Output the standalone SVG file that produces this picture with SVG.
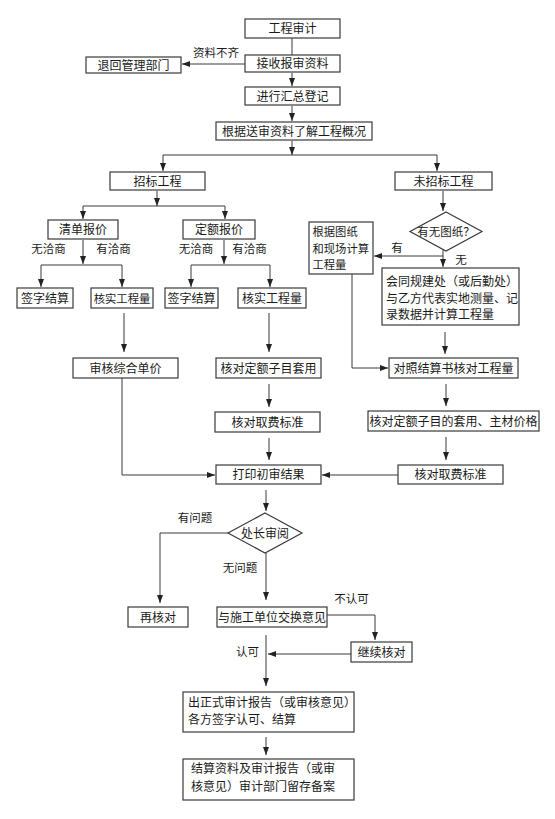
<svg xmlns="http://www.w3.org/2000/svg" width="555" height="819" viewBox="0 0 555 819">
<style>
.b{fill:#fff;stroke:#3a3a3a;stroke-width:1.2}
.t{font-family:"Noto Sans CJK SC","Noto Sans",sans-serif;font-size:12px;fill:#1a1a1a}
.s{font-size:11.3px}
.c{text-anchor:middle}
.l{font-family:"Noto Sans CJK SC","Noto Sans",sans-serif;font-size:11.5px;fill:#1a1a1a;text-anchor:middle}
.e{fill:none;stroke:#3a3a3a;stroke-width:1}
</style>
<defs>
<marker id="ah" viewBox="0 0 8 6" refX="8" refY="3" markerWidth="8" markerHeight="6" orient="auto" markerUnits="userSpaceOnUse"><path d="M0,0 L8,3 L0,6 z" fill="#222"/></marker>
</defs>
<rect width="555" height="819" fill="#fff"/>
<g id="connectors">
<line class="e" x1="292" y1="38" x2="292" y2="55"/>
<line class="e" x1="245" y1="64" x2="182" y2="64" marker-end="url(#ah)"/>
<line class="e" x1="292" y1="73" x2="292" y2="86" marker-end="url(#ah)"/>
<line class="e" x1="292" y1="106" x2="292" y2="121" marker-end="url(#ah)"/>
<line class="e" x1="292" y1="141" x2="292" y2="155" marker-end="url(#ah)"/>
<line class="e" x1="163" y1="155" x2="437" y2="155"/>
<line class="e" x1="163" y1="155" x2="163" y2="171" marker-end="url(#ah)"/>
<line class="e" x1="437" y1="155" x2="437" y2="171" marker-end="url(#ah)"/>
<line class="e" x1="157" y1="191" x2="157" y2="206" marker-end="url(#ah)"/>
<line class="e" x1="83" y1="206" x2="225" y2="206"/>
<line class="e" x1="83" y1="206" x2="83" y2="219" marker-end="url(#ah)"/>
<line class="e" x1="225" y1="206" x2="225" y2="219" marker-end="url(#ah)"/>
<line class="e" x1="83" y1="240" x2="83" y2="264" marker-end="url(#ah)"/>
<line class="e" x1="41" y1="265" x2="122" y2="265"/>
<line class="e" x1="41" y1="265" x2="41" y2="287" marker-end="url(#ah)"/>
<line class="e" x1="122" y1="265" x2="122" y2="287" marker-end="url(#ah)"/>
<line class="e" x1="224" y1="240" x2="224" y2="264" marker-end="url(#ah)"/>
<line class="e" x1="191" y1="265" x2="270" y2="265"/>
<line class="e" x1="191" y1="265" x2="191" y2="287" marker-end="url(#ah)"/>
<line class="e" x1="270" y1="265" x2="270" y2="287" marker-end="url(#ah)"/>
<line class="e" x1="124" y1="313" x2="124" y2="352" marker-end="url(#ah)"/>
<line class="e" x1="269" y1="313" x2="269" y2="352" marker-end="url(#ah)"/>
<line class="e" x1="443" y1="191" x2="443" y2="211" marker-end="url(#ah)"/>
<line class="e" x1="443" y1="250" x2="443" y2="267" marker-end="url(#ah)"/>
<line class="e" x1="443" y1="256" x2="374" y2="256" marker-end="url(#ah)"/>
<path class="e" d="M352,274 V368 H388" marker-end="url(#ah)"/>
<line class="e" x1="445" y1="332" x2="445" y2="354" marker-end="url(#ah)"/>
<line class="e" x1="269" y1="384" x2="269" y2="407" marker-end="url(#ah)"/>
<line class="e" x1="269" y1="438" x2="269" y2="460" marker-end="url(#ah)"/>
<line class="e" x1="446" y1="384" x2="446" y2="406" marker-end="url(#ah)"/>
<line class="e" x1="446" y1="437" x2="446" y2="460" marker-end="url(#ah)"/>
<line class="e" x1="398" y1="475" x2="322" y2="475" marker-end="url(#ah)"/>
<path class="e" d="M122,378 V475 H215" marker-end="url(#ah)"/>
<line class="e" x1="266" y1="490" x2="266" y2="511" marker-end="url(#ah)"/>
<path class="e" d="M228,533 H160 V603" marker-end="url(#ah)"/>
<line class="e" x1="266" y1="553" x2="266" y2="600" marker-end="url(#ah)"/>
<path class="e" d="M327,615 H375 V640" marker-end="url(#ah)"/>
<line class="e" x1="351" y1="654" x2="268" y2="654" marker-end="url(#ah)"/>
<line class="e" x1="266" y1="635" x2="266" y2="686" marker-end="url(#ah)"/>
<line class="e" x1="266" y1="737" x2="266" y2="755" marker-end="url(#ah)"/>
</g>
<g id="labels">
<text class="l" x="216" y="56.5">资料不齐</text>
<text class="l" x="48.5" y="253">无洽商</text>
<text class="l" x="113.5" y="253">有洽商</text>
<text class="l" x="196" y="253">无洽商</text>
<text class="l" x="249.5" y="253">有洽商</text>
<text class="l" x="397" y="252">有</text>
<text class="l" x="461" y="264">无</text>
<text class="l" x="195" y="521.5">有问题</text>
<text class="l" x="240" y="572">无问题</text>
<text class="l" x="351.5" y="603">不认可</text>
<text class="l" x="247.5" y="656">认可</text>
</g>
<g id="n1"><rect class="b" x="245" y="19" width="95" height="19"/><text class="t c" x="292.5" y="33">工程审计</text></g>
<g id="n2"><rect class="b" x="245" y="55" width="95" height="17"/><text class="t c" x="292.5" y="68">接收报审资料</text></g>
<g id="n3"><rect class="b" x="86" y="57" width="95" height="16"/><text class="t c" x="133.5" y="69.5">退回管理部门</text></g>
<g id="n4"><rect class="b" x="245" y="87" width="95" height="18"/><text class="t c" x="292.5" y="100.5">进行汇总登记</text></g>
<g id="n5"><rect class="b" x="216" y="122" width="156" height="18"/><text class="t c" x="294" y="135.5">根据送审资料了解工程概况</text></g>
<g id="n6"><rect class="b" x="110" y="172" width="95" height="18"/><text class="t c" x="157.5" y="185.5">招标工程</text></g>
<g id="n7"><rect class="b" x="395" y="172" width="97" height="18"/><text class="t c" x="443.5" y="185.5">未招标工程</text></g>
<g id="n8"><rect class="b" x="48" y="220" width="70" height="19"/><text class="t c" x="83" y="234">清单报价</text></g>
<g id="n9"><rect class="b" x="183" y="220" width="72" height="19"/><text class="t c" x="219" y="234">定额报价</text></g>
<g id="n10"><rect class="b" x="17" y="288" width="56" height="20"/><text class="t c" x="45" y="302.5">签字结算</text></g>
<g id="n11"><rect class="b" x="91" y="288" width="62" height="20"/><text class="t s c" x="122" y="302.5">核实工程量</text></g>
<g id="n12"><rect class="b" x="165" y="288" width="53" height="20"/><text class="t c" x="191.5" y="302.5">签字结算</text></g>
<g id="n13"><rect class="b" x="238" y="288" width="68" height="20"/><text class="t c" x="272" y="302.5">核实工程量</text></g>
<g id="n14"><polygon class="b" points="446,212 482,231.5 446,251 410,231.5"/><text class="t c" x="446" y="236" style="font-size:11.5px">有无图纸？</text></g>
<g id="n15"><rect class="b" x="309" y="222" width="64" height="52"/><text class="t s" x="312.5" y="236">根据图纸</text><text class="t s" x="312.5" y="252.5">和现场计算</text><text class="t s" x="312.5" y="269">工程量</text></g>
<g id="n16"><rect class="b" x="382" y="268" width="137" height="57"/><text class="t" x="386" y="286">会同规建处（或后勤处）</text><text class="t" x="386" y="302.5">与乙方代表实地测量、记</text><text class="t" x="386" y="319">录数据并计算工程量</text></g>
<g id="n17"><rect class="b" x="73" y="358" width="105" height="20"/><text class="t c" x="125.5" y="372.5">审核综合单价</text></g>
<g id="n18"><rect class="b" x="216" y="358" width="105" height="20"/><text class="t c" x="268.5" y="372.5">核对定额子目套用</text></g>
<g id="n19"><rect class="b" x="389" y="358" width="129" height="20"/><text class="t c" x="453.5" y="372.5">对照结算书核对工程量</text></g>
<g id="n20"><rect class="b" x="215" y="412" width="105" height="20"/><text class="t c" x="267.5" y="426.5">核对取费标准</text></g>
<g id="n21"><rect class="b" x="368" y="411" width="171" height="20"/><text class="t c" x="453.5" y="425.5">核对定额子目的套用、主材价格</text></g>
<g id="n22"><rect class="b" x="216" y="465" width="105" height="19"/><text class="t c" x="268.5" y="479">打印初审结果</text></g>
<g id="n23"><rect class="b" x="398" y="465" width="105" height="19"/><text class="t c" x="450.5" y="479">核对取费标准</text></g>
<g id="n24"><polygon class="b" points="265,513 302,533 265,553 228,533"/><text class="t c" x="265" y="537.5">处长审阅</text></g>
<g id="n25"><rect class="b" x="128" y="607" width="60" height="20"/><text class="t c" x="158" y="621.5">再核对</text></g>
<g id="n26"><rect class="b" x="217" y="607" width="110" height="20"/><text class="t c" x="272" y="621.5">与施工单位交换意见</text></g>
<g id="n27"><rect class="b" x="351" y="642" width="61" height="20"/><text class="t c" x="381.5" y="656.5">继续核对</text></g>
<g id="n28"><rect class="b" x="183" y="692" width="171" height="40"/><text class="t" x="188" y="707">出正式审计报告（或审核意见）</text><text class="t" x="188" y="724">各方签字认可、结算</text></g>
<g id="n29"><rect class="b" x="183" y="759" width="171" height="41"/><text class="t" x="191" y="773">结算资料及审计报告（或审</text><text class="t" x="191" y="791">核意见）审计部门留存备案</text></g>
</svg>
